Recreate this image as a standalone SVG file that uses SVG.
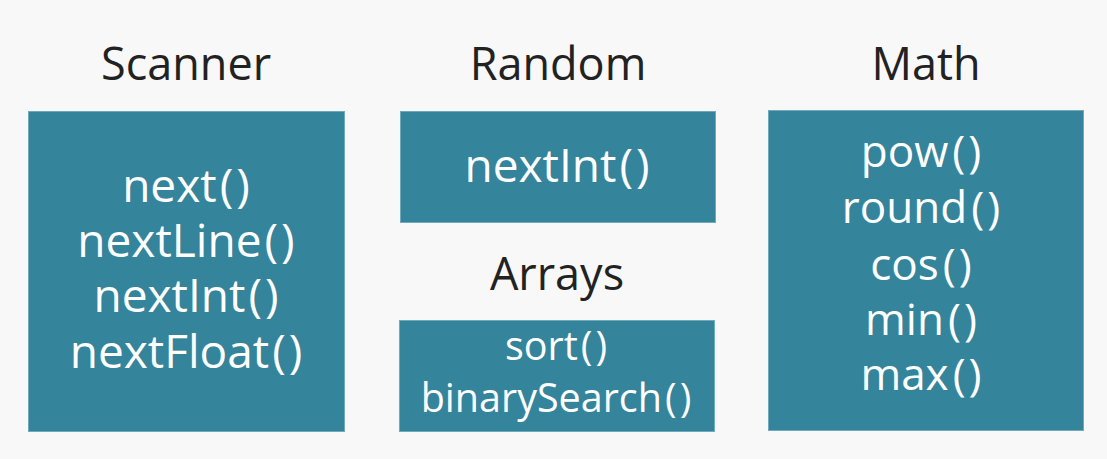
<svg xmlns="http://www.w3.org/2000/svg" width="1107" height="459" viewBox="0 0 1107 459">
<style>
.bg{fill:#f8f8f8}
.box{fill:#34849c;stroke:#6fa9ba;stroke-width:1}
.title{font-family:"Open Sans","Noto Sans",sans-serif;font-size:45px;fill:#222;text-anchor:middle}
.item{font-family:"Open Sans","Noto Sans",sans-serif;font-size:44px;fill:#fff;text-anchor:middle}
.big{font-size:46px}
.small{font-size:39.5px}
</style>
<rect class="bg" x="0" y="0" width="1107" height="459"/>
<g id="scanner">
<text class="title" x="186" y="80">Scanner</text>
<rect class="box" x="28.5" y="111.5" width="316" height="320"/>
<text class="item big" x="186" y="202">next<tspan dx="3">(</tspan><tspan dx="3">)</tspan></text>
<text class="item big" x="186" y="257">nextLine<tspan dx="3">(</tspan><tspan dx="3">)</tspan></text>
<text class="item big" x="186" y="312">nextInt<tspan dx="3">(</tspan><tspan dx="3">)</tspan></text>
<text class="item big" x="186" y="368">nextFloat<tspan dx="3">(</tspan><tspan dx="3">)</tspan></text>
</g>
<g id="random">
<text class="title" x="558" y="80">Random</text>
<rect class="box" x="400.5" y="111.5" width="315" height="111"/>
<text class="item big" x="557" y="182">nextInt<tspan dx="3">(</tspan><tspan dx="3">)</tspan></text>
</g>
<g id="arrays">
<text class="title" x="557" y="290">Arrays</text>
<rect class="box" x="399.5" y="320.5" width="315" height="111"/>
<text class="item small" x="556" y="360">sort<tspan dx="3">(</tspan><tspan dx="3">)</tspan></text>
<text class="item small" x="556" y="412">binarySearch<tspan dx="3">(</tspan><tspan dx="3">)</tspan></text>
</g>
<g id="math">
<text class="title" x="926" y="80">Math</text>
<rect class="box" x="768.5" y="110.5" width="315" height="320"/>
<text class="item" x="921" y="167">pow<tspan dx="4">(</tspan><tspan dx="3">)</tspan></text>
<text class="item" x="921" y="223">round<tspan dx="4">(</tspan><tspan dx="3">)</tspan></text>
<text class="item" x="921" y="280">cos<tspan dx="4">(</tspan><tspan dx="3">)</tspan></text>
<text class="item" x="921" y="335">min<tspan dx="4">(</tspan><tspan dx="3">)</tspan></text>
<text class="item" x="921" y="390">max<tspan dx="4">(</tspan><tspan dx="3">)</tspan></text>
</g>
<g id="connectors"></g>
</svg>
